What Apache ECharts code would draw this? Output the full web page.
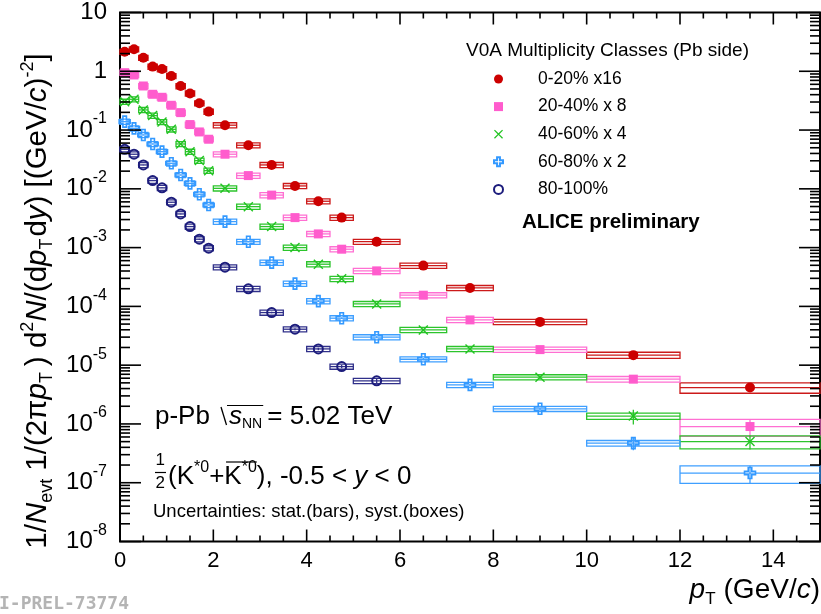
<!DOCTYPE html>
<html>
<head>
<meta charset="utf-8">
<script src="https://cdn.jsdelivr.net/npm/echarts@6/dist/echarts.min.js"></script>
<style>
  html, body { margin: 0; padding: 0; background: #ffffff; }
  #chart { width: 821px; height: 614px; }
</style>
</head>
<body>
<div id="chart"></div>
<script>
// ---- pT binning (GeV/c) ----
const binEdges = [0, 0.2, 0.4, 0.6, 0.8, 1.0, 1.2, 1.4, 1.6, 1.8, 2.0, 2.5, 3.0, 3.5, 4.0, 4.5, 5.0, 6.0, 7.0, 8.0, 10.0, 12.0, 15.0];

// ---- K*0 yields per multiplicity class (already scaled) ----
const yield0020 = [2.15, 2.37, 1.70, 1.20, 1.09, 0.83, 0.56, 0.42, 0.286, 0.206, 0.121, 0.0551, 0.0255, 0.0112, 0.00615, 0.00324, 0.00126, 4.94e-4, 2.06e-4, 5.45e-5, 1.48e-5, 4.16e-6];
const yield2040 = [0.946, 0.865, 0.562, 0.406, 0.361, 0.264, 0.198, 0.124, 0.0929, 0.0698, 0.0388, 0.0168, 0.00782, 0.00324, 0.00171, 9.4e-4, 4.02e-4, 1.55e-4, 5.89e-5, 1.84e-5, 5.78e-6, 9.03e-7];
const yield4060 = [0.304, 0.334, 0.220, 0.176, 0.137, 0.103, 0.0580, 0.0429, 0.0302, 0.0204, 0.0102, 0.00498, 0.00228, 1.0e-3, 5.22e-4, 2.94e-4, 1.10e-4, 3.98e-5, 1.89e-5, 6.25e-6, 1.36e-6, 5.02e-7];
const yield6080 = [0.139, 0.107, 0.0826, 0.0580, 0.0429, 0.0272, 0.0172, 0.0124, 0.00809, 0.00532, 0.00277, 0.00126, 5.56e-4, 2.44e-4, 1.23e-4, 6.30e-5, 2.99e-5, 1.26e-5, 4.62e-6, 1.81e-6, 4.71e-7, 1.46e-7];
const yield80100 = [0.0471, 0.0388, 0.0255, 0.0138, 0.0104, 0.00592, 0.00374, 0.00228, 0.00139, 9.77e-4, 4.64e-4, 1.99e-4, 7.85e-5, 4.09e-5, 1.89e-5, 9.46e-6, 5.41e-6];

// ---- relative statistical uncertainties ----
const stat0020 = [0.01, 0.01, 0.01, 0.01, 0.01, 0.01, 0.01, 0.01, 0.01, 0.01, 0.01, 0.01, 0.01, 0.02, 0.02, 0.02, 0.02, 0.03, 0.04, 0.05, 0.08, 0.12];
const stat2040 = [0.01, 0.01, 0.01, 0.01, 0.01, 0.01, 0.01, 0.01, 0.01, 0.01, 0.01, 0.01, 0.02, 0.02, 0.02, 0.03, 0.03, 0.04, 0.05, 0.06, 0.12, 0.35];
const stat4060 = [0.01, 0.01, 0.01, 0.01, 0.01, 0.01, 0.01, 0.01, 0.01, 0.01, 0.01, 0.02, 0.02, 0.02, 0.03, 0.03, 0.03, 0.05, 0.06, 0.07, 0.28, 0.27];
const stat6080 = [0.01, 0.01, 0.01, 0.01, 0.01, 0.01, 0.01, 0.01, 0.01, 0.01, 0.02, 0.02, 0.02, 0.03, 0.03, 0.03, 0.04, 0.05, 0.06, 0.08, 0.24, 0.33];
const stat80100 = [0.01, 0.01, 0.01, 0.01, 0.01, 0.01, 0.01, 0.02, 0.02, 0.02, 0.02, 0.03, 0.03, 0.04, 0.05, 0.06, 0.08];

// ---- relative systematic uncertainties ----
const syst0020 = [0.1, 0.1, 0.1, 0.1, 0.1, 0.1, 0.1, 0.1, 0.1, 0.1, 0.1, 0.1, 0.1, 0.1, 0.1, 0.1, 0.1, 0.1, 0.1, 0.1, 0.12, 0.2];
const syst2040 = [0.1, 0.1, 0.1, 0.1, 0.1, 0.1, 0.1, 0.1, 0.1, 0.1, 0.1, 0.1, 0.1, 0.1, 0.1, 0.1, 0.1, 0.1, 0.1, 0.1, 0.11, 0.32];
const syst4060 = [0.1, 0.1, 0.1, 0.1, 0.1, 0.1, 0.1, 0.1, 0.1, 0.1, 0.1, 0.1, 0.1, 0.1, 0.1, 0.1, 0.1, 0.1, 0.1, 0.1, 0.12, 0.25];
const syst6080 = [0.1, 0.1, 0.1, 0.1, 0.1, 0.1, 0.1, 0.1, 0.1, 0.1, 0.1, 0.1, 0.1, 0.1, 0.1, 0.1, 0.1, 0.1, 0.1, 0.1, 0.11, 0.33];
const syst80100 = [0.1, 0.1, 0.1, 0.1, 0.1, 0.1, 0.1, 0.1, 0.1, 0.1, 0.1, 0.1, 0.1, 0.1, 0.1, 0.1, 0.1];

// ---- class labels ----
const classNames = ['0-20% x16', '20-40% x 8', '40-60% x 4', '60-80% x 2', '80-100%'];

// ---- axis ticks ----
const xRange = [0, 15];
const xMajorTicks = [0, 2, 4, 6, 8, 10, 12, 14];
const yRange = [1e-8, 10];
const yDecades = [-8, -7, -6, -5, -4, -3, -2, -1, 0, 1];

// ---- helpers ----
const FONT = '"Liberation Sans", Arial, Helvetica, sans-serif';
const measureCtx = document.createElement('canvas').getContext('2d');
function fontOf(p) {
  return (p.it ? 'italic ' : 'normal ') + (p.b ? 'bold ' : 'normal ') + p.s + 'px ' + FONT;
}
// lay out a sequence of text runs (for sub/superscripts, italics)
function runs(parts, base) {
  let x = 0;
  const els = [];
  const spans = [];
  parts.forEach(function (q) {
    const p = Object.assign({ s: base }, q);
    if (p.x !== undefined) x = p.x;
    const f = fontOf(p);
    measureCtx.font = f;
    const w = measureCtx.measureText(p.t).width;
    els.push({ type: 'text', x: x, y: p.dy || 0, silent: true,
      style: { text: p.t, font: f, fill: '#000', align: 'left', verticalAlign: 'middle' } });
    spans.push([x, x + w]);
    x += w + (p.g || 0);
  });
  return { els: els, width: x, spans: spans };
}

function centers(n) {
  const c = [];
  for (let i = 0; i < n; i++) c.push((binEdges[i] + binEdges[i + 1]) / 2);
  return c;
}
function pointData(vals) {
  const c = centers(vals.length);
  return vals.map(function (v, i) { return [c[i], v]; });
}
function boxData(vals, stat, syst) {
  return vals.map(function (v, i) {
    return [binEdges[i], binEdges[i + 1], v, v * (1 - syst[i]), v * (1 + syst[i]), v * (1 - stat[i]), v * (1 + stat[i])];
  });
}

// systematic box + horizontal bin bar + vertical stat bar
function boxRenderer(color) {
  return function (params, api) {
    const xl = api.value(0), xh = api.value(1), y = api.value(2);
    const sl = api.value(3), sh = api.value(4), el = api.value(5), eh = api.value(6);
    const a = api.coord([xl, sh]), b = api.coord([xh, sl]);
    const l = api.coord([xl, y]), r = api.coord([xh, y]);
    const xc = (xl + xh) / 2;
    const u = api.coord([xc, eh]), d = api.coord([xc, el]);
    const st = { stroke: color, lineWidth: 1.3, fill: 'none' };
    return { type: 'group', silent: true, children: [
      { type: 'rect', shape: { x: a[0], y: a[1], width: b[0] - a[0], height: b[1] - a[1] }, style: st },
      { type: 'line', shape: { x1: l[0], y1: l[1], x2: r[0], y2: r[1] }, style: st },
      { type: 'line', shape: { x1: u[0], y1: u[1], x2: d[0], y2: d[1] }, style: st }
    ] };
  };
}

// inward ticks on all four sides of the frame
function frameTicks(params, api) {
  const kids = [];
  const yb = api.coord([xRange[0], yRange[0]])[1];
  const yt = api.coord([xRange[0], yRange[1]])[1];
  const xl = api.coord([xRange[0], 1])[0];
  const xr = api.coord([xRange[1], 1])[0];
  function seg(x1, y1, x2, y2) {
    kids.push({ type: 'line', shape: { x1: x1, y1: y1, x2: x2, y2: y2 }, style: { stroke: '#000', lineWidth: 1.6 } });
  }
  for (let v = xRange[0]; v <= xRange[1] + 1e-9; v += 0.5) {
    const major = xMajorTicks.indexOf(v) >= 0;
    const px = api.coord([v, 1])[0];
    const len = major ? 12 : 6;
    seg(px, yb, px, yb - len);
    seg(px, yt, px, yt + len);
  }
  yDecades.forEach(function (e) {
    const py = api.coord([1, Math.pow(10, e)])[1];
    seg(xl, py, xl + 21, py);
    seg(xr, py, xr - 21, py);
    if (e < yDecades[yDecades.length - 1]) {
      for (let m = 2; m <= 9; m++) {
        const pm = api.coord([1, m * Math.pow(10, e)])[1];
        seg(xl, pm, xl + 10, pm);
        seg(xr, pm, xr - 10, pm);
      }
    }
  });
  return { type: 'group', silent: true, children: kids };
}

// ---- marker styles ----
const pathX = 'path://M1,0 L5,4 L9,0 L10,1 L6,5 L10,9 L9,10 L5,6 L1,10 L0,9 L4,5 L0,1 Z';
const pathOpenCross = 'path://M3.4,0 H6.6 V3.4 H10 V6.6 H6.6 V10 H3.4 V6.6 H0 V3.4 H3.4 Z';

const classes = [
  { vals: yield0020, stat: stat0020, syst: syst0020, color: '#cc0000', box: '#cc1a1a', symbol: 'circle', size: 10, fill: '#cc0000', bw: 0 },
  { vals: yield2040, stat: stat2040, syst: syst2040, color: '#ff5ccd', box: '#ff6fd2', symbol: 'rect', size: 9, fill: '#ff5ccd', bw: 0 },
  { vals: yield4060, stat: stat4060, syst: syst4060, color: '#22c422', box: '#2cc42c', symbol: pathX, size: 10, fill: '#22c422', bw: 0 },
  { vals: yield6080, stat: stat6080, syst: syst6080, color: '#3399ff', box: '#3f9fff', symbol: pathOpenCross, size: 11, fill: 'rgba(0,0,0,0)', bw: 1.6 },
  { vals: yield80100, stat: stat80100, syst: syst80100, color: '#1c1c7c', box: '#30308a', symbol: 'circle', size: 9, fill: 'rgba(0,0,0,0)', bw: 2 }
];

const series = [];
classes.forEach(function (c, i) {
  series.push({
    type: 'custom', name: classNames[i] + ' syst', coordinateSystem: 'cartesian2d',
    renderItem: boxRenderer(c.box), data: boxData(c.vals, c.stat, c.syst),
    encode: { x: [0, 1], y: [2, 3, 4] }, z: 2, silent: true, animation: false
  });
});
classes.forEach(function (c, i) {
  series.push({
    type: 'scatter', name: classNames[i], data: pointData(c.vals),
    symbol: c.symbol, symbolSize: c.size, z: 4, silent: true, animation: false,
    itemStyle: { color: c.fill, borderColor: c.color, borderWidth: c.bw, opacity: 1 }
  });
});
series.push({
  type: 'custom', name: 'frame', coordinateSystem: 'cartesian2d', renderItem: frameTicks,
  data: [[1, 1]], z: 6, silent: true, animation: false
});

// ---- annotation texts ----
const graphics = [];
function place(r, x, y, extra) {
  graphics.push(Object.assign({ type: 'group', x: x, y: y, children: r.els, silent: true }, extra || {}));
}

// legend header
place(runs([{ t: 'V0A Multiplicity Classes (Pb side)' }], 19), 466, 51);
place(runs([{ t: 'ALICE preliminary', b: true }], 20.5), 522, 222);

// collision system
const line1 = runs([
  { t: 'p-Pb' },
  { t: 's', it: true, x: 74 },
  { t: 'NN', s: 14, dy: 7, g: 5 },
  { t: '= 5.02 TeV' }
], 26);
place(line1, 155, 417);
const sX = line1.spans[1][0], nnEnd = line1.spans[2][1];
graphics.push({ type: 'polyline', x: 155, y: 417, silent: true,
  shape: { points: [[sX - 8, -10], [sX - 2.5, 8]] }, style: { stroke: '#000', lineWidth: 1.3, fill: 'none' } });
graphics.push({ type: 'line', x: 155, y: 417, silent: true,
  shape: { x1: sX - 2, y1: -11.5, x2: nnEnd + 1, y2: -11.5 }, style: { stroke: '#000', lineWidth: 1.1 } });

// particle and rapidity window
place(runs([{ t: '1' }], 17), 155.5, 460);
place(runs([{ t: '2' }], 17), 155.5, 483.5);
graphics.push({ type: 'line', x: 0, y: 0, silent: true,
  shape: { x1: 155, y1: 472.5, x2: 166, y2: 472.5 }, style: { stroke: '#000', lineWidth: 1.2 } });
const line2 = runs([
  { t: '(K' },
  { t: '*0', s: 16, dy: -9 },
  { t: '+K' },
  { t: '*0', s: 16, dy: -9 },
  { t: '), -0.5 < ' },
  { t: 'y', it: true },
  { t: ' < 0' }
], 26);
place(line2, 168, 477);
const kbar0 = line2.spans[2][0] + (line2.spans[2][1] - line2.spans[2][0]) * 0.52;
graphics.push({ type: 'line', x: 168, y: 477, silent: true,
  shape: { x1: kbar0, y1: -15, x2: line2.spans[3][1], y2: -15 }, style: { stroke: '#000', lineWidth: 1.2 } });

place(runs([{ t: 'Uncertainties: stat.(bars), syst.(boxes)' }], 18.5), 153, 512);

// x axis title
const xTitle = runs([
  { t: 'p', it: true },
  { t: 'T', s: 17, dy: 9, g: 8 },
  { t: '(GeV/' },
  { t: 'c', it: true },
  { t: ')' }
], 28);
place(xTitle, 820 - xTitle.width, 590);

// y axis title (rotated)
const yTitle = runs([
  { t: '1/' }, { t: 'N', it: true }, { t: 'evt', s: 18, dy: 9, g: 8 },
  { t: '1/(2π' }, { t: 'p', it: true }, { t: 'T', s: 18, dy: 9, g: 6 },
  { t: ') d' }, { t: '2', s: 18, dy: -10 }, { t: 'N', it: true },
  { t: '/(d' }, { t: 'p', it: true }, { t: 'T', s: 18, dy: 9, g: 2 },
  { t: 'd' }, { t: 'y', it: true },
  { t: ') [(GeV/' }, { t: 'c', it: true }, { t: ')' },
  { t: '-2', s: 18, dy: -10 }, { t: ']' }
], 29.5);
place(yTitle, 38, 301 + yTitle.width / 2, { rotation: Math.PI / 2 });

// preliminary figure id
graphics.push({ type: 'text', x: -1, y: 604, silent: true,
  style: { text: 'I-PREL-73774', font: 'bold 18px "DejaVu Sans Mono", monospace', fill: '#b4b4b4', align: 'left', verticalAlign: 'middle' } });

// ---- chart ----
const chart = echarts.init(document.getElementById('chart'), null, { renderer: 'canvas' });
chart.setOption({
  animation: false,
  backgroundColor: '#ffffff',
  grid: { left: 120, right: 1, top: 12.5, bottom: 72.5, show: true, borderColor: '#000', borderWidth: 2,
          backgroundColor: 'transparent', containLabel: false, outerBoundsMode: 'none' },
  xAxis: {
    type: 'value', min: xRange[0], max: xRange[1], interval: 2,
    axisLine: { show: false }, axisTick: { show: false }, splitLine: { show: false },
    axisLabel: { fontFamily: FONT, fontSize: 22, color: '#000', margin: 8,
      formatter: function (v) { return xMajorTicks.indexOf(v) >= 0 ? String(v) : ''; } }
  },
  yAxis: {
    type: 'log', logBase: 10, min: yRange[0], max: yRange[1], splitNumber: 9,
    axisLine: { show: false }, axisTick: { show: false }, splitLine: { show: false }, minorTick: { show: false },
    axisLabel: {
      fontFamily: FONT, fontSize: 24, color: '#000', margin: 13, lineHeight: 38,
      formatter: function (v) {
        const e = Math.round(Math.log10(v));
        if (e === 1) return '10';
        if (e === 0) return '1';
        return '10{sup|' + e + '}';
      },
      rich: { sup: { fontFamily: FONT, fontSize: 16, lineHeight: 16, verticalAlign: 'top', color: '#000' } }
    }
  },
  legend: {
    data: classNames, orient: 'vertical', left: 493, top: 70, padding: 0,
    itemWidth: 9, itemHeight: 9, itemGap: 9.6, selectedMode: false,
    formatter: function (n) { return '{g|}{n|' + n + '}'; },
    textStyle: { fontFamily: FONT, fontSize: 17.5, color: '#000', lineHeight: 18,
      rich: { g: { width: 30, lineHeight: 18 }, n: { fontFamily: FONT, fontSize: 17.5, lineHeight: 18, color: '#000' } } }
  },
  series: series,
  graphic: { elements: graphics }
});
</script>
</body>
</html>
